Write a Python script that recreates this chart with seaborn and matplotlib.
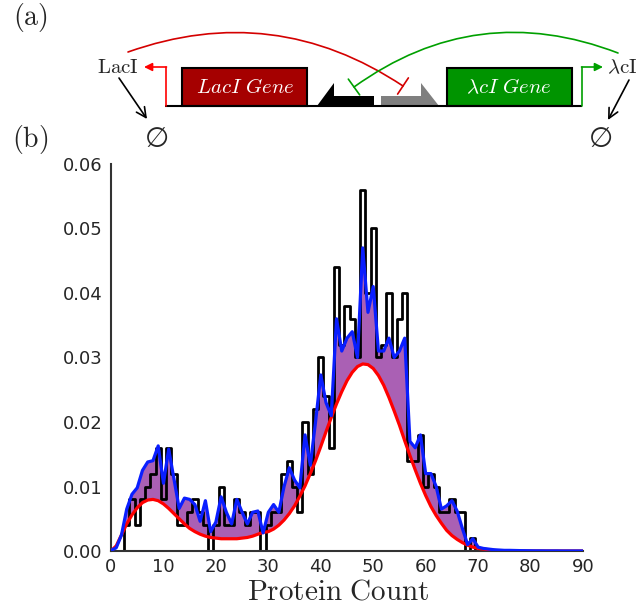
import numpy as np
import pandas as pd
import matplotlib
matplotlib.use('Agg')
import matplotlib.pyplot as plt
import seaborn as sns
from matplotlib.patches import Rectangle, Polygon
from matplotlib.ticker import FormatStrFormatter

# ---------------- data ----------------
protein_count = list(range(0, 91))

hist_prob = [0, 0, 0, 0.004, 0.008, 0.004, 0.008, 0.010, 0.012, 0.016,
             0.008, 0.016, 0.012, 0.004, 0.004, 0.006, 0.008, 0.006, 0.004, 0.0,
             0.004, 0.010, 0.004, 0.004, 0.008, 0.006, 0.004, 0.006, 0.006, 0.0,
             0.004, 0.006, 0.006, 0.012, 0.014, 0.010, 0.006, 0.020, 0.012, 0.022,
             0.030, 0.024, 0.016, 0.044, 0.032, 0.038, 0.036, 0.030, 0.056, 0.040,
             0.050, 0.030, 0.032, 0.040, 0.030, 0.036, 0.040, 0.014, 0.014, 0.018,
             0.010, 0.012, 0.010, 0.006, 0.006, 0.008, 0.006, 0.006, 0.0, 0.002,
             0, 0, 0, 0, 0, 0, 0, 0, 0, 0,
             0, 0, 0, 0, 0, 0, 0, 0, 0, 0, 0]

blue_dist = [0.0001, 0.0005, 0.0025, 0.0065, 0.0088, 0.0098, 0.0125, 0.0138, 0.0140, 0.0163,
             0.0105, 0.0158, 0.0112, 0.0066, 0.0082, 0.0080, 0.0072, 0.0046, 0.0078, 0.0030,
             0.0045, 0.0084, 0.0060, 0.0042, 0.0080, 0.0060, 0.0042, 0.0060, 0.0062, 0.0028,
             0.0060, 0.0072, 0.0060, 0.0100, 0.0129, 0.0110, 0.0098, 0.0180, 0.0133, 0.0200,
             0.0273, 0.0230, 0.0210, 0.0360, 0.0310, 0.0330, 0.0340, 0.0300, 0.0470, 0.0370,
             0.0410, 0.0310, 0.0310, 0.0330, 0.0300, 0.0310, 0.0330, 0.0170, 0.0160, 0.0180,
             0.0120, 0.0120, 0.0100, 0.0065, 0.0070, 0.0078, 0.0062, 0.0035, 0.0010, 0.0019,
             0.0006, 0.0004, 0.0003, 0.0002, 0.00015, 0.0001, 0.0001, 0.00008, 0.00006, 0.00005,
             0.00004, 0.00003, 0.00003, 0.00002, 0.00002, 0.00002, 0.00001, 0.00001, 0.00001, 0.00001, 0.00001]

red_dist = [0.0000, 0.0008, 0.0025, 0.0042, 0.0056, 0.0067, 0.0075, 0.0079, 0.0080, 0.0078,
            0.0073, 0.0066, 0.0058, 0.0050, 0.0042, 0.0035, 0.0030, 0.0026, 0.0023, 0.0021,
            0.0020, 0.0019, 0.0019, 0.0019, 0.0019, 0.0020, 0.0021, 0.0023, 0.0026, 0.0029,
            0.0030, 0.0034, 0.0040, 0.0048, 0.0058, 0.0070, 0.0085, 0.0101, 0.0120, 0.0140,
            0.0162, 0.0185, 0.0207, 0.0228, 0.0247, 0.0264, 0.0277, 0.0286, 0.0290, 0.0289,
            0.0283, 0.0272, 0.0257, 0.0238, 0.0217, 0.0195, 0.0171, 0.0148, 0.0126, 0.0105,
            0.0086, 0.0069, 0.0055, 0.0043, 0.0032, 0.0024, 0.0018, 0.0013, 0.0009, 0.0006,
            0.0004, 0.0003, 0.0002, 0.0001, 0.0, 0.0, 0.0, 0.0, 0.0, 0.0,
            0.0, 0.0, 0.0, 0.0, 0.0, 0.0, 0.0, 0.0, 0.0, 0.0, 0.0]

x_ticks = [0, 10, 20, 30, 40, 50, 60, 70, 80, 90]
y_ticks = [0.00, 0.01, 0.02, 0.03, 0.04, 0.05, 0.06]
x_label = r'$\mathrm{Protein\ Count}$'

df = pd.DataFrame({'count': protein_count, 'hist': hist_prob,
                   'blue': blue_dist, 'red': red_dist})

# ---------------- style ----------------
sns.set_style('white')
plt.rcParams['font.family'] = ['DejaVu Sans']
plt.rcParams['mathtext.fontset'] = 'cm'

W, H = 638, 615
fig = plt.figure(figsize=(W / 100, H / 100), dpi=100)
ax = fig.add_axes([111 / W, 64 / H, 472 / W, 387 / H])

ax.fill_between(df['count'], df['red'], df['blue'], color='#AA60B4', lw=0, zorder=1)
sns.histplot(data=df, x='count', weights='hist', binwidth=1, binrange=(-0.5, 90.5),
             element='step', fill=False, color='black', linewidth=2.0, ax=ax, zorder=2)
sns.lineplot(data=df, x='count', y='red', color='#ff0000', lw=2.3, ax=ax, zorder=3)
sns.lineplot(data=df, x='count', y='blue', color='#0a1eff', lw=2.3, ax=ax, zorder=4)

ax.set_xlim(0, 90)
ax.set_ylim(0, 0.06)
ax.set_xticks(x_ticks)
ax.set_yticks(y_ticks)
ax.yaxis.set_major_formatter(FormatStrFormatter('%.2f'))
ax.set_ylabel('')
ax.set_xlabel(x_label, fontsize=21)
ax.xaxis.set_label_coords(0.481, -0.068)
for s in ['top', 'right']:
    ax.spines[s].set_visible(False)
for s in ['left', 'bottom']:
    ax.spines[s].set_linewidth(1.5)
    ax.spines[s].set_color('#333333')
ax.tick_params(direction='in', length=5, width=1, labelsize=13, color='#333333')
ax.tick_params(axis='y', pad=6)
ax.tick_params(axis='x', pad=5)

# ---------------- diagram (a) ----------------
ov = fig.add_axes([0, 0, 1, 1], facecolor='none')
ov.set_xlim(0, W)
ov.set_ylim(H, 0)
ov.axis('off')

ov.text(30, 18, r'$\mathrm{(a)}$', fontsize=20, ha='center', va='center')
ov.text(30, 140, r'$\mathrm{(b)}$', fontsize=20, ha='center', va='center')

ov.plot([165, 582], [106, 106], color='black', lw=1.5, solid_capstyle='butt')
ov.add_patch(Rectangle((182, 68), 125, 38, fc='#A50000', ec='black', lw=1.5))
ov.add_patch(Rectangle((447, 68), 125, 38, fc='#009400', ec='black', lw=1.5))
ov.text(245, 87, r'$LacI\ Gene$', color='white', fontsize=15, ha='center', va='center')
ov.text(509, 87, r'$\lambda cI\ Gene$', color='white', fontsize=15, ha='center', va='center')
ov.add_patch(Polygon([(317, 106), (334, 83), (334, 96), (374, 96), (374, 106)],
                     closed=True, fc='black', ec='none'))
ov.add_patch(Polygon([(381, 106), (381, 96), (421, 96), (421, 83), (439, 106)],
                     closed=True, fc='#7f7f7f', ec='none'))

# promoters
ov.plot([166, 166], [106, 67], color='#ff0000', lw=1.2)
ov.annotate('', xy=(144, 67), xytext=(166.5, 67),
            arrowprops=dict(arrowstyle='-|>', color='#ff0000', lw=1.2,
                            mutation_scale=12, shrinkA=0, shrinkB=0))
ov.plot([582, 582], [106, 67], color='#00a000', lw=1.2)
ov.annotate('', xy=(603, 67), xytext=(581.5, 67),
            arrowprops=dict(arrowstyle='-|>', color='#00a000', lw=1.2,
                            mutation_scale=12, shrinkA=0, shrinkB=0))

ov.text(118, 67, r'$\mathrm{LacI}$', fontsize=15, ha='center', va='center')
ov.text(622, 67, r'$\lambda\mathrm{cI}$', fontsize=15, ha='center', va='center')

# degradation
ov.annotate('', xy=(147, 119), xytext=(119, 78),
            arrowprops=dict(arrowstyle='->, head_length=0.5, head_width=0.25', color='black',
                            lw=1.2, mutation_scale=14, shrinkA=0, shrinkB=0))
ov.annotate('', xy=(608, 120), xytext=(629, 80),
            arrowprops=dict(arrowstyle='->, head_length=0.5, head_width=0.25', color='black',
                            lw=1.2, mutation_scale=14, shrinkA=0, shrinkB=0))
empty_fams = ['DejaVu Sans', 'Noto Sans CJK JP', 'Liberation Serif']
ov.text(157, 139, '\u2205', fontsize=20, family=empty_fams, ha='center', va='center')
ov.text(601, 139, '\u2205', fontsize=20, family=empty_fams, ha='center', va='center')

# repression arcs
ov.annotate('', xy=(403, 86), xytext=(128, 52),
            arrowprops=dict(arrowstyle='-[, widthB=0.7, lengthB=0', color='#d40000', lw=1.2,
                            connectionstyle='arc3,rad=-0.25', shrinkA=0, shrinkB=0,
                            mutation_scale=10))
ov.annotate('', xy=(354, 87), xytext=(618, 53),
            arrowprops=dict(arrowstyle='-[, widthB=0.7, lengthB=0', color='#00a000', lw=1.2,
                            connectionstyle='arc3,rad=0.27', shrinkA=0, shrinkB=0,
                            mutation_scale=10))

fig.savefig('out.png', dpi=100)
